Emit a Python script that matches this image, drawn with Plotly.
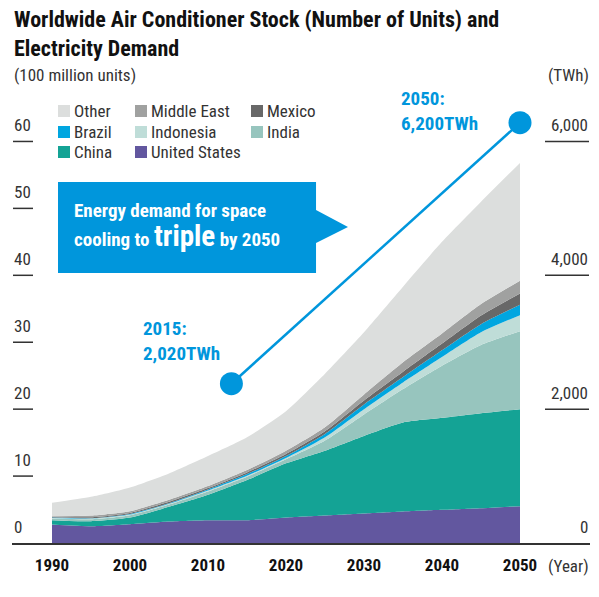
import plotly.graph_objects as go

# stacked air conditioner stock, 100 million units
years = [1990, 1995, 2000, 2005, 2010, 2015, 2020, 2025, 2030, 2035, 2040, 2045, 2050]
united_states = [2.75, 2.5, 2.8, 3.2, 3.4, 3.4, 3.8, 4.1, 4.4, 4.7, 4.95, 5.2, 5.5]
china = [0.65, 0.75, 1.0, 2.2, 3.8, 6.0, 8.1, 9.7, 11.6, 13.3, 13.75, 14.2, 14.5]
india = [0.25, 0.3, 0.35, 0.35, 0.5, 0.5, 0.6, 1.5, 3.2, 5.0, 7.8, 10.2, 11.65]
indonesia = [0.1, 0.1, 0.1, 0.1, 0.15, 0.15, 0.2, 0.5, 0.8, 1.0, 1.3, 1.9, 2.4]
brazil = [0.05, 0.05, 0.1, 0.1, 0.15, 0.25, 0.3, 0.5, 0.7, 0.8, 1.0, 1.2, 1.55]
mexico = [0.1, 0.15, 0.15, 0.2, 0.2, 0.25, 0.3, 0.4, 0.6, 0.8, 1.0, 1.3, 1.7]
middle_east = [0.1, 0.25, 0.25, 0.3, 0.3, 0.35, 0.5, 0.6, 0.9, 1.4, 1.5, 1.7, 1.9]
other = [2.0, 2.8, 3.55, 3.95, 4.5, 4.9, 5.9, 8.0, 9.3, 11.3, 13.7, 15.3, 17.6]

# space cooling electricity demand (TWh), where the two dots sit
energy_years = [2013, 2050]
energy_twh = [2380, 6280]

left_ticks = [0, 10, 20, 30, 40, 50, 60]
right_ticks = [0, 2000, 4000, 6000]
right_labels = ["0", "2,000", "4,000", "6,000"]
x_ticks = [1990, 2000, 2010, 2020, 2030, 2040, 2050]

series = [
    ("United States", united_states, "#62579f"),
    ("China", china, "#14a395"),
    ("India", india, "#97c5be"),
    ("Indonesia", indonesia, "#bfddd8"),
    ("Brazil", brazil, "#00a6e0"),
    ("Mexico", mexico, "#686868"),
    ("Middle East", middle_east, "#a0a1a0"),
    ("Other", other, "#dcdedd"),
]
colors = {name: c for name, _, c in series}

W, H = 599, 597
L, R, T, B = 12, 9, 108, 54
FONT = "'Liberation Sans Narrow', 'Roboto Condensed', 'DejaVu Sans Condensed', Roboto, sans-serif"
BLUE = "#0096dc"
TEXT = "#333333"
FS = 17


def px(x):
    return (x - L) / (W - L - R)


def py(y):
    return (H - B - y) / (H - T - B)


fig = go.Figure()
for name, vals, color in series:
    fig.add_trace(
        go.Scatter(
            x=years,
            y=vals,
            name=name,
            stackgroup="ac",
            mode="lines",
            line={"width": 0, "color": color, "shape": "spline", "smoothing": 0.6},
            fillcolor=color,
            showlegend=False,
        )
    )

fig.add_trace(
    go.Scatter(
        x=energy_years,
        y=energy_twh,
        yaxis="y2",
        mode="lines+markers",
        line={"color": BLUE, "width": 2.5},
        marker={"color": BLUE, "size": 23},
        showlegend=False,
        cliponaxis=False,
    )
)

shapes = []
annotations = []

# tick underlines and labels
for t in left_ticks:
    if t:
        shapes.append(dict(type="line", xref="paper", yref="y", x0=px(13), x1=px(33), y0=t, y1=t,
                           line={"color": TEXT, "width": 1.5}))
    annotations.append(dict(text=str(t), xref="paper", yref="y", x=px(12), y=t, xanchor="left",
                            yanchor="bottom", yshift=4, showarrow=False, font={"size": FS, "color": TEXT}))
for t, lab in zip(right_ticks, right_labels):
    if t:
        shapes.append(dict(type="line", xref="paper", yref="y2", x0=px(545), x1=px(589), y0=t, y1=t,
                           line={"color": TEXT, "width": 1.5}))
    annotations.append(dict(text=lab, xref="paper", yref="y2", x=px(590), y=t, xanchor="right",
                            yanchor="bottom", yshift=4, showarrow=False, font={"size": FS, "color": TEXT}))

# legend drawn by hand in three columns
legend_rows = [["Other", "Middle East", "Mexico"], ["Brazil", "Indonesia", "India"], ["China", "United States"]]
col_x = [58, 135, 251]
row_y = [111, 132, 152]
for r, row in enumerate(legend_rows):
    for c, name in enumerate(row):
        x0, yc = col_x[c], row_y[r]
        shapes.append(dict(type="rect", xref="paper", yref="paper", x0=px(x0), x1=px(x0 + 12),
                           y0=py(yc + 6), y1=py(yc - 6), fillcolor=colors[name], line={"width": 0}))
        annotations.append(dict(text=name, xref="paper", yref="paper", x=px(x0 + 14), y=py(yc),
                                xanchor="left", yanchor="middle", showarrow=False,
                                font={"size": FS, "color": TEXT}))

# callout box
pts = [(58, 182), (316, 182), (316, 210), (348, 227), (316, 243), (316, 273), (58, 273)]
path = "M " + " L ".join(f"{px(x):.4f},{py(y):.4f}" for x, y in pts) + " Z"
shapes.append(dict(type="path", xref="paper", yref="paper", path=path, fillcolor=BLUE, line={"width": 0}))
callout = ("<b><span style='font-size:19px'>Energy demand for space</span><br>"
           "<span style='font-size:19px'>cooling to </span><span style='font-size:29px'>triple</span>"
           "<span style='font-size:19px'> by 2050</span></b>")
annotations.append(dict(text=callout, xref="paper", yref="paper", x=px(72), y=py(226),
                        xanchor="left", yanchor="middle", align="left", showarrow=False,
                        font={"size": 22, "color": "white"}))

annotations += [
    dict(text="<b>2015:<br>2,020TWh</b>", xref="paper", yref="paper", x=px(141), y=py(341), xanchor="left",
         yanchor="middle", align="left", showarrow=False, font={"size": 19, "color": BLUE}),
    dict(text="<b>2050:<br>6,200TWh</b>", xref="paper", yref="paper", x=px(399), y=py(111), xanchor="left",
         yanchor="middle", align="left", showarrow=False, font={"size": 19, "color": BLUE}),
    dict(text="<b>Worldwide Air Conditioner Stock (Number of Units) and<br>Electricity Demand</b>", xref="paper",
         yref="paper", x=px(12), y=py(34), xanchor="left", yanchor="middle", align="left", showarrow=False,
         font={"size": 22, "color": "#111111"}),
    dict(text="(100 million units)", xref="paper", yref="paper", x=px(12), y=py(75), xanchor="left",
         yanchor="middle", showarrow=False, font={"size": FS, "color": TEXT}),
    dict(text="(TWh)", xref="paper", yref="paper", x=px(591), y=py(75), xanchor="right",
         yanchor="middle", showarrow=False, font={"size": FS, "color": TEXT}),
    dict(text="(Year)", xref="paper", yref="paper", x=px(591), y=py(566), xanchor="right",
         yanchor="middle", showarrow=False, font={"size": FS, "color": TEXT}),
]

fig.update_layout(
    width=W,
    height=H,
    margin=dict(l=L, r=R, t=T, b=B),
    paper_bgcolor="white",
    plot_bgcolor="white",
    font={"family": FONT, "color": TEXT},
    showlegend=False,
    shapes=shapes,
    annotations=annotations,
    xaxis=dict(
        range=[1990 - 40 / 7.8, 2050 + 70 / 7.8],
        tickvals=x_ticks,
        ticktext=[str(x) for x in x_ticks],
        tickfont={"size": FS, "color": "#111111", "weight": "bold"},
        ticks="",
        ticklabelstandoff=6,
        showline=True,
        linecolor="#333333",
        linewidth=2,
        showgrid=False,
        zeroline=False,
    ),
    yaxis=dict(range=[0, 65], showticklabels=False, showgrid=False, zeroline=False, ticks=""),
    yaxis2=dict(range=[0, 6500], overlaying="y", showticklabels=False, showgrid=False, zeroline=False, ticks=""),
)

# page body margin would shift the chart by 8px
fig.write_html("out.html", config={"displayModeBar": False}, post_script="document.body.style.margin='0';")
